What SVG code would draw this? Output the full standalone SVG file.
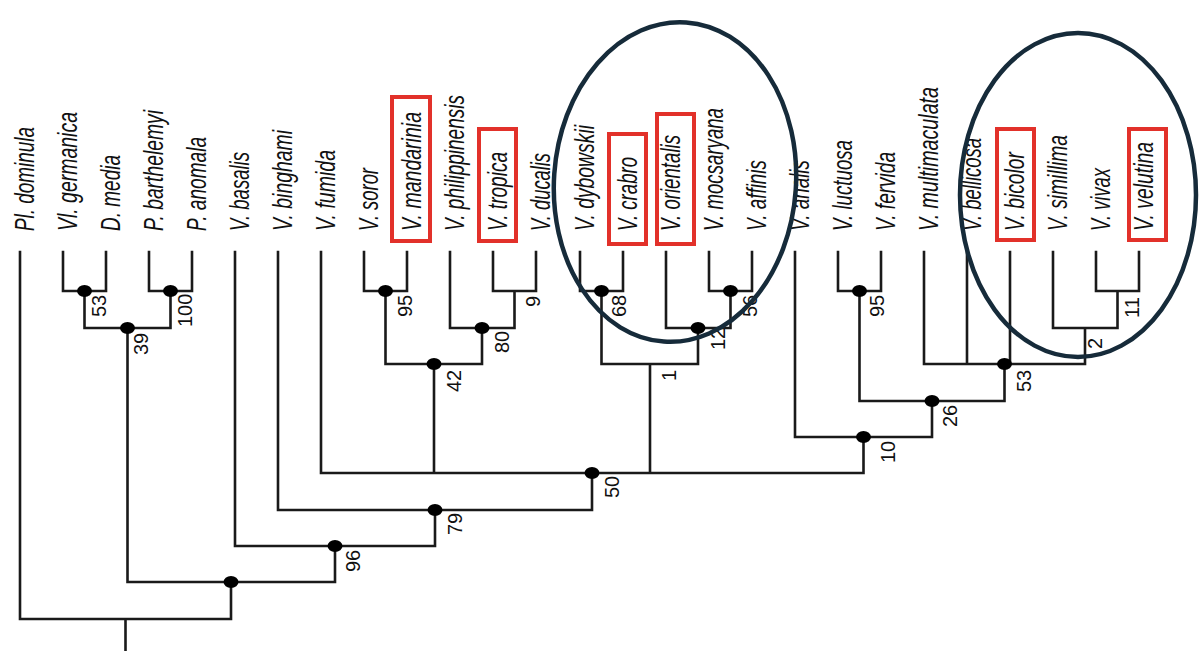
<svg xmlns="http://www.w3.org/2000/svg" width="1200" height="651" viewBox="0 0 1200 651">
<style>
.bg{fill:#ffffff}
.edge{fill:none;stroke:#1a1a1a;stroke-width:2.6;stroke-linecap:square}
.dot{fill:#000000}
.tx{font-family:"Liberation Sans Narrow","Liberation Sans",Arial,sans-serif;font-style:italic;font-size:27px;fill:#111111}
.bs{font-family:"Liberation Sans Narrow","Liberation Sans",Arial,sans-serif;font-size:20px;fill:#111111}
.box{fill:none;stroke:#e2312a;stroke-width:4}
.ring{fill:none;stroke:#162b3a;stroke-width:4.5}
</style>
<rect class="bg" x="0" y="0" width="1200" height="651"/>
<g id="connectors">
<path class="edge" d="M125.5 651V619M20 252V619H231V582M127.5 328V582H335V546M235 252V546H435V510M278 252V510H592V473M321 252V473H863.5V437M434 364V473M650 364V473M795 252V437H932V401M859.5 291V401H1004.5V364M924 252V364H1085V328M967 252V364M1010 252V364M1053 252V328H1117.5V291M1096 252V291H1139V252M838 252V291H881V252M84.5 291V328H170.5V291M63 252V291H106V252M149 252V291H192V252M385.5 291V364H482V328M364 252V291H407V252M450 252V328H514.5V291M493 252V291H536V252M601.5 291V364H698V328M580 252V291H623V252M666 252V328H730.5V291M709 252V291H752V252"/>
</g>
<g id="taxon-pl-dominula"><text class="tx" transform="translate(34 231) rotate(-90)" textLength="104" lengthAdjust="spacingAndGlyphs">Pl. dominula</text></g>
<g id="taxon-vl-germanica"><text class="tx" transform="translate(77 231) rotate(-90)" textLength="119" lengthAdjust="spacingAndGlyphs">Vl. germanica</text></g>
<g id="taxon-d-media"><text class="tx" transform="translate(120 231) rotate(-90)" textLength="76" lengthAdjust="spacingAndGlyphs">D. media</text></g>
<g id="taxon-p-barthelemyi"><text class="tx" transform="translate(163 231) rotate(-90)" textLength="121" lengthAdjust="spacingAndGlyphs">P. barthelemyi</text></g>
<g id="taxon-p-anomala"><text class="tx" transform="translate(206 231) rotate(-90)" textLength="94" lengthAdjust="spacingAndGlyphs">P. anomala</text></g>
<g id="taxon-v-basalis"><text class="tx" transform="translate(249 231) rotate(-90)" textLength="79" lengthAdjust="spacingAndGlyphs">V. basalis</text></g>
<g id="taxon-v-binghami"><text class="tx" transform="translate(292 231) rotate(-90)" textLength="101" lengthAdjust="spacingAndGlyphs">V. binghami</text></g>
<g id="taxon-v-fumida"><text class="tx" transform="translate(335 231) rotate(-90)" textLength="81" lengthAdjust="spacingAndGlyphs">V. fumida</text></g>
<g id="taxon-v-soror"><text class="tx" transform="translate(378 231) rotate(-90)" textLength="63" lengthAdjust="spacingAndGlyphs">V. soror</text></g>
<g id="taxon-v-mandarinia"><text class="tx" transform="translate(421 231) rotate(-90)" textLength="119" lengthAdjust="spacingAndGlyphs">V. mandarinia</text><rect class="box" x="392" y="97" width="38" height="144"/></g>
<g id="taxon-v-philippinensis"><text class="tx" transform="translate(464 231) rotate(-90)" textLength="136" lengthAdjust="spacingAndGlyphs">V. philippinensis</text></g>
<g id="taxon-v-tropica"><text class="tx" transform="translate(507 231) rotate(-90)" textLength="79" lengthAdjust="spacingAndGlyphs">V. tropica</text><rect class="box" x="479" y="129" width="37" height="112"/></g>
<g id="taxon-v-ducalis"><text class="tx" transform="translate(550 231) rotate(-90)" textLength="78" lengthAdjust="spacingAndGlyphs">V. ducalis</text></g>
<g id="taxon-v-dybowskii"><text class="tx" transform="translate(594 231) rotate(-90)" textLength="106" lengthAdjust="spacingAndGlyphs">V. dybowskii</text></g>
<g id="taxon-v-crabro"><text class="tx" transform="translate(637 231) rotate(-90)" textLength="74" lengthAdjust="spacingAndGlyphs">V. crabro</text><rect class="box" x="609" y="134" width="37" height="110"/></g>
<g id="taxon-v-orientalis"><text class="tx" transform="translate(680 231) rotate(-90)" textLength="96" lengthAdjust="spacingAndGlyphs">V. orientalis</text><rect class="box" x="657" y="114" width="37" height="130"/></g>
<g id="taxon-v-mocsaryana"><text class="tx" transform="translate(723 231) rotate(-90)" textLength="123" lengthAdjust="spacingAndGlyphs">V. mocsaryana</text></g>
<g id="taxon-v-affinis"><text class="tx" transform="translate(766 231) rotate(-90)" textLength="71" lengthAdjust="spacingAndGlyphs">V. affinis</text></g>
<g id="taxon-v-analis"><text class="tx" transform="translate(809 231) rotate(-90)" textLength="71" lengthAdjust="spacingAndGlyphs">V. analis</text></g>
<g id="taxon-v-luctuosa"><text class="tx" transform="translate(852 231) rotate(-90)" textLength="91" lengthAdjust="spacingAndGlyphs">V. luctuosa</text></g>
<g id="taxon-v-fervida"><text class="tx" transform="translate(895 231) rotate(-90)" textLength="79" lengthAdjust="spacingAndGlyphs">V. fervida</text></g>
<g id="taxon-v-multimaculata"><text class="tx" transform="translate(938 231) rotate(-90)" textLength="144" lengthAdjust="spacingAndGlyphs">V. multimaculata</text></g>
<g id="taxon-v-bellicosa"><text class="tx" transform="translate(981 231) rotate(-90)" textLength="93" lengthAdjust="spacingAndGlyphs">V. bellicosa</text></g>
<g id="taxon-v-bicolor"><text class="tx" transform="translate(1024 231) rotate(-90)" textLength="79" lengthAdjust="spacingAndGlyphs">V. bicolor</text><rect class="box" x="997" y="129" width="37" height="111"/></g>
<g id="taxon-v-simillima"><text class="tx" transform="translate(1067 231) rotate(-90)" textLength="96" lengthAdjust="spacingAndGlyphs">V. simillima</text></g>
<g id="taxon-v-vivax"><text class="tx" transform="translate(1110 231) rotate(-90)" textLength="63" lengthAdjust="spacingAndGlyphs">V. vivax</text></g>
<g id="taxon-v-velutina"><text class="tx" transform="translate(1153 231) rotate(-90)" textLength="89" lengthAdjust="spacingAndGlyphs">V. velutina</text><rect class="box" x="1129" y="129" width="37" height="111"/></g>
<g id="node-A"><ellipse class="dot" cx="84.5" cy="291" rx="7.5" ry="6"/><text class="bs" transform="translate(106 317) rotate(-90)">53</text></g>
<g id="node-B"><ellipse class="dot" cx="170.5" cy="291" rx="7.5" ry="6"/><text class="bs" transform="translate(192 327) rotate(-90)">100</text></g>
<g id="node-C"><ellipse class="dot" cx="127.5" cy="328" rx="7.5" ry="6"/><text class="bs" transform="translate(148 355) rotate(-90)">39</text></g>
<g id="node-D"><ellipse class="dot" cx="385.5" cy="291" rx="7.5" ry="6"/><text class="bs" transform="translate(412 317) rotate(-90)">95</text></g>
<g id="node-E"><text class="bs" transform="translate(540 307) rotate(-90)">9</text></g>
<g id="node-F"><ellipse class="dot" cx="482" cy="328" rx="7.5" ry="6"/><text class="bs" transform="translate(509 353) rotate(-90)">80</text></g>
<g id="node-G"><ellipse class="dot" cx="434" cy="364" rx="7.5" ry="6"/><text class="bs" transform="translate(461 392) rotate(-90)">42</text></g>
<g id="node-H"><ellipse class="dot" cx="601.5" cy="291" rx="7.5" ry="6"/><text class="bs" transform="translate(626 317) rotate(-90)">68</text></g>
<g id="node-I"><ellipse class="dot" cx="730.5" cy="291" rx="7.5" ry="6"/><text class="bs" transform="translate(757 317) rotate(-90)">56</text></g>
<g id="node-J"><ellipse class="dot" cx="698" cy="328" rx="7.5" ry="6"/><text class="bs" transform="translate(725 350) rotate(-90)">12</text></g>
<g id="node-K"><text class="bs" transform="translate(676 381) rotate(-90)">1</text></g>
<g id="node-M"><ellipse class="dot" cx="859.5" cy="291" rx="7.5" ry="6"/><text class="bs" transform="translate(884 317) rotate(-90)">95</text></g>
<g id="node-N"><text class="bs" transform="translate(1139 318) rotate(-90)">11</text></g>
<g id="node-O"><text class="bs" transform="translate(1102 349) rotate(-90)">2</text></g>
<g id="node-P"><ellipse class="dot" cx="1004.5" cy="364" rx="7.5" ry="6"/><text class="bs" transform="translate(1031 392) rotate(-90)">53</text></g>
<g id="node-Q"><ellipse class="dot" cx="932" cy="401" rx="7.5" ry="6"/><text class="bs" transform="translate(957 427) rotate(-90)">26</text></g>
<g id="node-R"><ellipse class="dot" cx="863.5" cy="437" rx="7.5" ry="6"/><text class="bs" transform="translate(895 463) rotate(-90)">10</text></g>
<g id="node-S"><ellipse class="dot" cx="592" cy="473" rx="7.5" ry="6"/><text class="bs" transform="translate(619 498) rotate(-90)">50</text></g>
<g id="node-T"><ellipse class="dot" cx="435" cy="510" rx="7.5" ry="6"/><text class="bs" transform="translate(462 535) rotate(-90)">79</text></g>
<g id="node-U"><ellipse class="dot" cx="335" cy="546" rx="7.5" ry="6"/><text class="bs" transform="translate(360 572) rotate(-90)">96</text></g>
<g id="node-V"><ellipse class="dot" cx="231" cy="582" rx="7.5" ry="6"/></g>
<g id="highlights">
<ellipse class="ring" cx="675" cy="182" rx="121" ry="160" transform="rotate(4 675 182)"/>
<ellipse class="ring" cx="1078" cy="195" rx="118" ry="162"/>
</g>
</svg>
